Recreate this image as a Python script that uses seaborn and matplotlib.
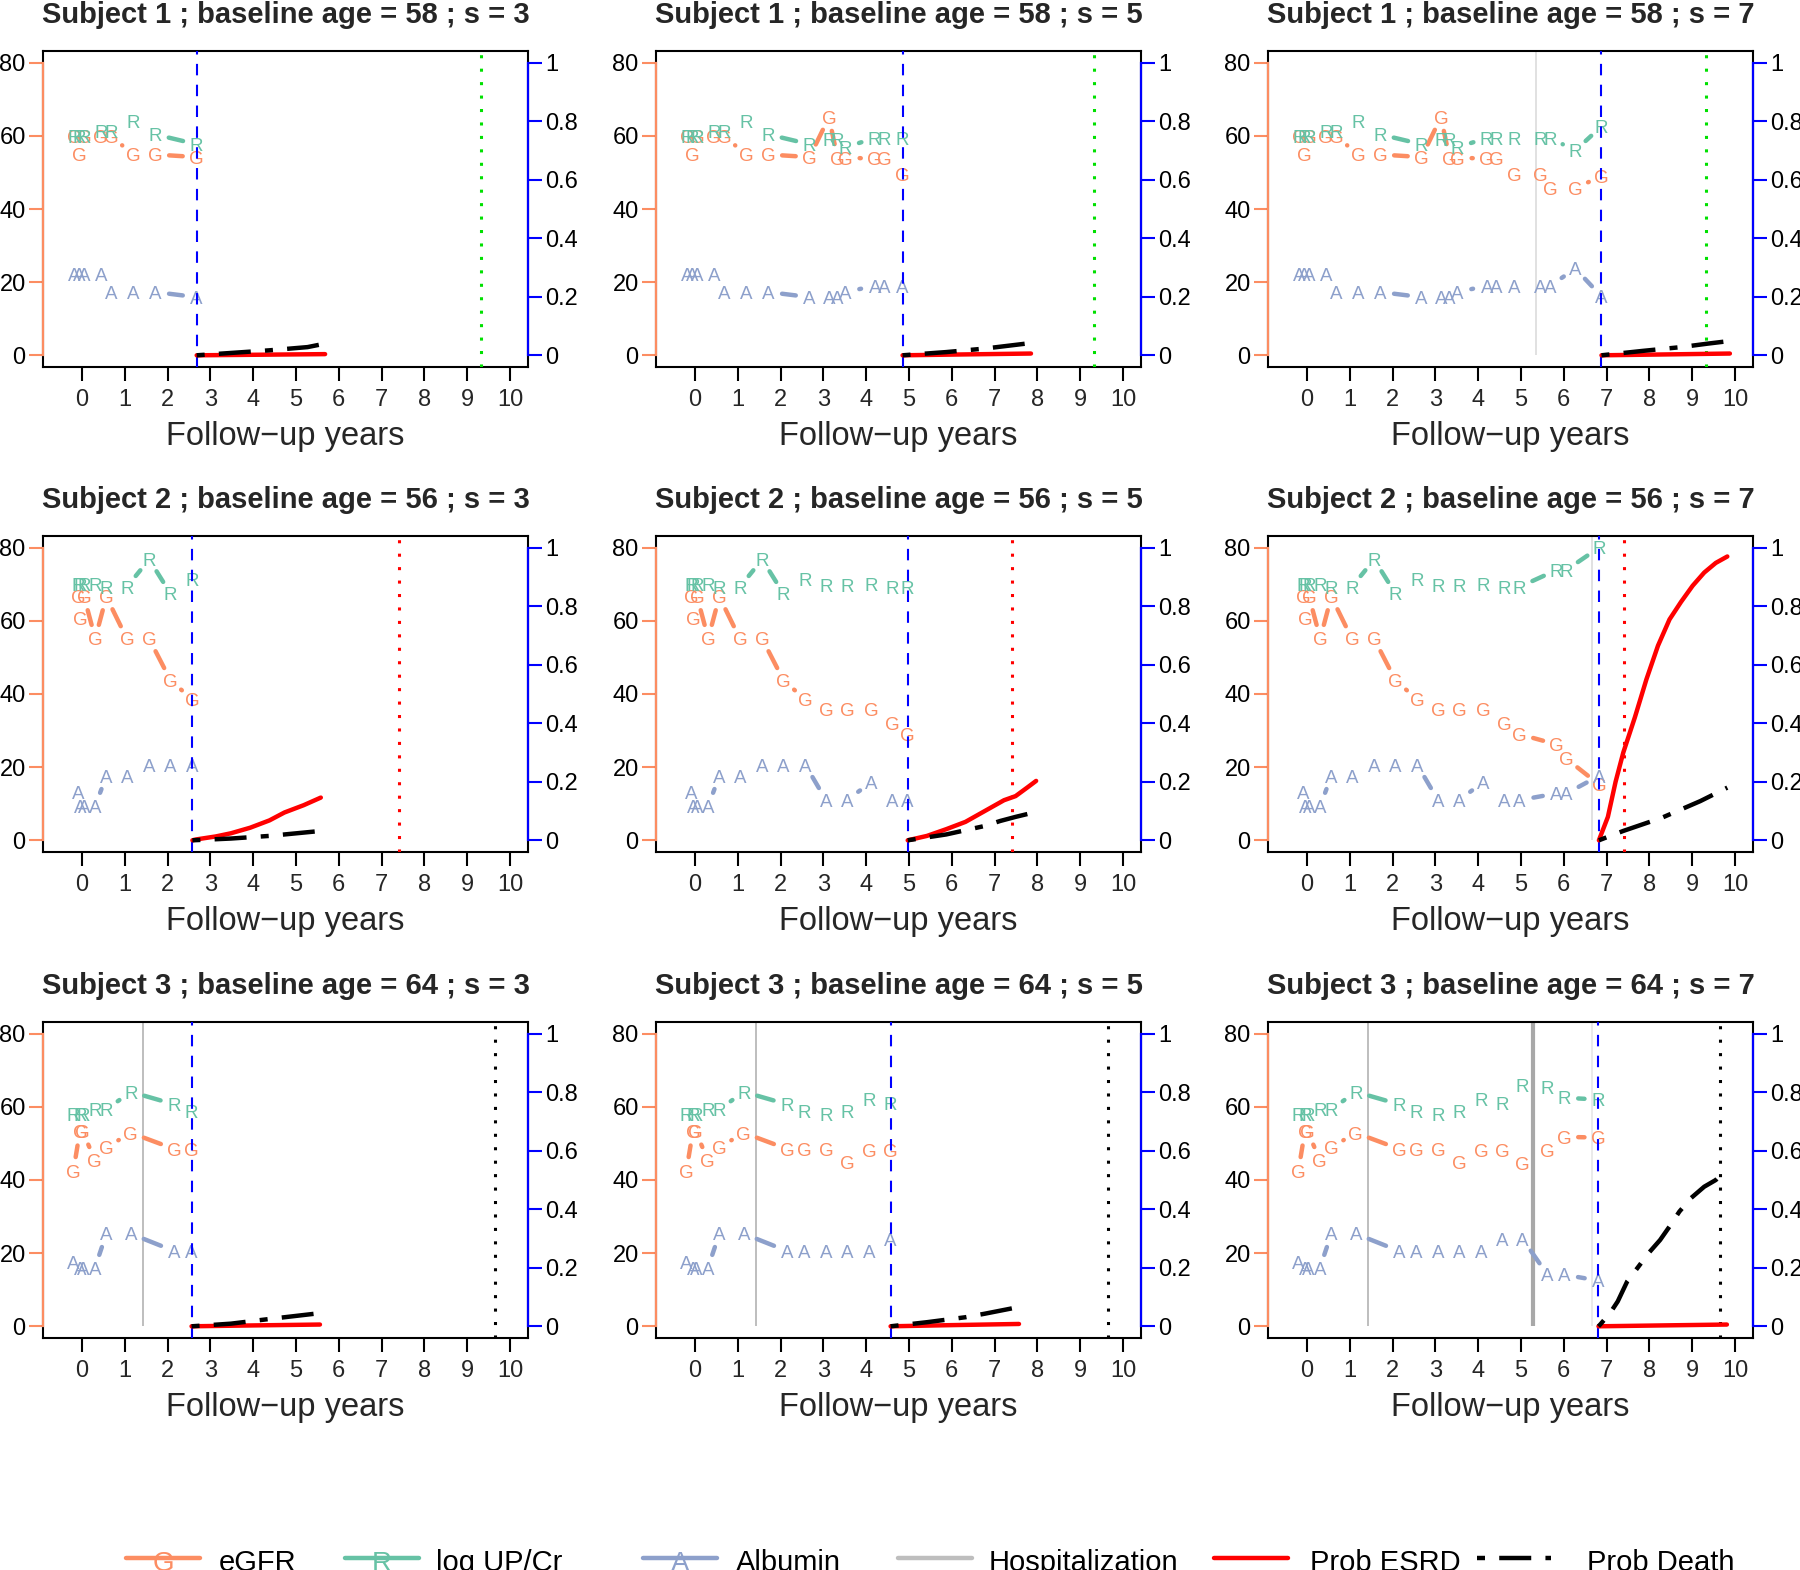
import numpy as np
import pandas as pd
import matplotlib
matplotlib.use("Agg")
import matplotlib.pyplot as plt
from matplotlib.collections import LineCollection
from matplotlib.lines import Line2D
import seaborn as sns

# ---------------- data ----------------
baseline_ages = [58, 56, 64]
s_values = [3, 5, 7]

# Subject 1
s1_time = [-0.19, -0.07, 0.045, 0.44, 0.69, 1.19, 1.71, 2.68, 3.13, 3.33, 3.52, 4.20, 4.43, 4.85, 5.46, 5.68, 6.27, 6.88]
s1_egfr = [60.0, 54.9, 60.0, 59.9, 59.9, 54.9, 54.9, 54.2, 65.1, 54.0, 54.0, 53.8, 53.8, 49.5, 49.5, 45.7, 45.7, 49.0]
s1_upcr = [59.9, 59.9, 59.9, 61.3, 61.3, 64.1, 60.4, 57.7, 59.1, 59.1, 56.9, 59.4, 59.4, 59.4, 59.4, 59.4, 56.0, 62.6]
s1_alb = [22.1, 22.1, 22.1, 22.1, 17.3, 17.3, 17.3, 15.9, 15.9, 15.9, 17.3, 19.0, 19.0, 19.0, 19.0, 19.0, 23.7, 16.1]
s1_landmarks = [2.68, 4.85, 6.88]
s1_hosp_time = [5.34]
s1_event_time = 9.32

# Subject 2
s2_time = [-0.08, -0.04, 0.05, 0.31, 0.57, 1.05, 1.57, 2.07, 2.58, 3.06, 3.55, 4.12, 4.60, 4.97, 5.83, 6.06, 6.82]
s2_egfr = [66.6, 60.6, 66.6, 55.2, 66.6, 55.1, 55.1, 43.7, 38.5, 35.8, 35.8, 35.8, 32.0, 29.0, 26.2, 22.3, 15.3]
s2_upcr = [70.0, 70.0, 70.0, 70.0, 69.3, 69.3, 76.8, 67.4, 71.5, 69.7, 69.7, 70.0, 69.3, 69.3, 73.9, 73.9, 80.0]
s2_alb = [13.0, 9.4, 9.4, 9.4, 17.6, 17.6, 20.6, 20.6, 20.6, 11.0, 11.0, 15.9, 11.0, 11.0, 12.8, 12.8, 17.6]
s2_landmarks = [2.58, 4.97, 6.82]
s2_hosp_time = [6.65]
s2_event_time = 7.40

# Subject 3
s3_time = [-0.20, -0.05, 0.02, 0.30, 0.57, 1.14, 2.15, 2.56, 3.07, 3.55, 4.08, 4.57, 5.04, 5.62, 6.01, 6.81]
s3_egfr = [42.5, 53.2, 53.2, 45.5, 48.9, 52.9, 48.5, 48.5, 48.5, 44.9, 48.2, 48.2, 44.5, 48.0, 51.8, 51.6]
s3_upcr = [58.0, 58.0, 58.0, 59.3, 59.3, 64.1, 60.7, 58.9, 58.0, 58.9, 62.0, 61.0, 65.9, 65.3, 62.5, 62.0]
s3_alb = [17.5, 15.9, 15.9, 15.9, 25.3, 25.3, 20.6, 20.6, 20.5, 20.5, 20.5, 23.8, 23.8, 14.1, 14.1, 12.5]
s3_landmarks = [2.56, 4.57, 6.81]
s3_hosp_time = [1.43, 5.28, 6.65]
s3_event_time = 9.66

# Predicted probabilities (time, prob) per subject and landmark
s1_esrd_t = [[2.68, 4.20, 5.68], [4.85, 6.30, 7.85], [6.88, 8.40, 9.88]]
s1_esrd_p = [[0.0, 0.002, 0.004], [0.0, 0.003, 0.006], [0.0, 0.003, 0.006]]
s1_death_t = [[2.68, 3.48, 4.38, 5.27, 5.68], [4.85, 5.87, 6.77, 7.85], [6.88, 7.84, 8.74, 9.37, 9.88]]
s1_death_p = [[0.0, 0.008, 0.017, 0.028, 0.040], [0.0, 0.011, 0.023, 0.042], [0.0, 0.015, 0.028, 0.040, 0.049]]

s2_esrd_t = [[2.58, 2.67, 3.12, 3.48, 3.93, 4.38, 4.73, 5.18, 5.58],
             [4.97, 5.42, 5.87, 6.32, 6.77, 7.22, 7.49, 7.76, 7.97],
             [6.82, 7.03, 7.21, 7.39, 7.66, 7.93, 8.20, 8.47, 8.74, 9.01, 9.28, 9.55, 9.82]]
s2_esrd_p = [[0.0, 0.003, 0.013, 0.024, 0.043, 0.068, 0.095, 0.120, 0.146],
             [0.0, 0.015, 0.038, 0.063, 0.100, 0.137, 0.151, 0.180, 0.203],
             [0.0, 0.080, 0.200, 0.300, 0.420, 0.550, 0.665, 0.755, 0.815, 0.870, 0.915, 0.948, 0.970]]
s2_death_t = [[2.58, 3.48, 4.38, 5.58], [4.97, 5.87, 6.77, 7.13, 7.49, 7.97], [6.82, 7.39, 8.29, 9.19, 9.82]]
s2_death_p = [[0.0, 0.006, 0.015, 0.032], [0.0, 0.020, 0.049, 0.066, 0.080, 0.097], [0.0, 0.032, 0.077, 0.134, 0.180]]

s3_esrd_t = [[2.56, 4.00, 5.56], [4.57, 6.00, 7.57], [6.81, 8.30, 9.81]]
s3_esrd_p = [[0.0, 0.003, 0.006], [0.0, 0.004, 0.008], [0.0, 0.003, 0.006]]
s3_death_t = [[2.56, 3.48, 4.38, 5.56], [4.57, 5.42, 6.32, 6.77, 7.57],
              [6.81, 6.85, 7.08, 7.26, 7.48, 7.75, 7.98, 8.25, 8.47, 8.70, 8.97, 9.28, 9.55, 9.66]]
s3_death_p = [[0.0, 0.009, 0.025, 0.045], [0.0, 0.014, 0.031, 0.043, 0.066],
              [0.0, 0.006, 0.045, 0.085, 0.153, 0.205, 0.250, 0.295, 0.341, 0.392, 0.438, 0.477, 0.500, 0.517]]

legend_labels = ["eGFR", "log UP/Cr", "Albumin", "Hospitalization", "Prob ESRD", "Prob Death"]
x_ticks = [0, 1, 2, 3, 4, 5, 6, 7, 8, 9, 10]
y_ticks = [0, 20, 40, 60, 80]
p_ticks = [0, 0.2, 0.4, 0.6, 0.8, 1.0]
p_tick_labels = ["0", "0.2", "0.4", "0.6", "0.8", "1"]

# ---------------- styling ----------------
C_EGFR = "#FC8D62"
C_UPCR = "#66C2A5"
C_ALB = "#8DA0CB"
EVENT_COLORS = ["#00E000", "#FF0000", "#000000"]
HOSP_STYLE = [
    [("#dcdcdc", 1.2)],
    [("#dcdcdc", 1.2)],
    [("#bebebe", 1.4), ("#a8a8a8", 3.0), ("#e6e6e6", 1.2)],
]
DEATH_LS = (0, (1.8, 3.2, 7.2, 3.2))

sns.set_theme(style="ticks")
plt.rcParams['font.family'] = ['Liberation Sans', 'DejaVu Sans']

subjects = [
    dict(time=s1_time, egfr=s1_egfr, upcr=s1_upcr, alb=s1_alb, lm=s1_landmarks, hosp=s1_hosp_time,
         event=s1_event_time, et=s1_esrd_t, ep=s1_esrd_p, dt=s1_death_t, dp=s1_death_p),
    dict(time=s2_time, egfr=s2_egfr, upcr=s2_upcr, alb=s2_alb, lm=s2_landmarks, hosp=s2_hosp_time,
         event=s2_event_time, et=s2_esrd_t, ep=s2_esrd_p, dt=s2_death_t, dp=s2_death_p),
    dict(time=s3_time, egfr=s3_egfr, upcr=s3_upcr, alb=s3_alb, lm=s3_landmarks, hosp=s3_hosp_time,
         event=s3_event_time, et=s3_esrd_t, ep=s3_esrd_p, dt=s3_death_t, dp=s3_death_p),
]

W, H = 1800, 1570
fig = plt.figure(figsize=(W / 100, H / 100), dpi=100)
col_left = [43, 656, 1268]
row_top = [51, 536, 1022]
ax_w, ax_h = 485, 316
XLIM = (-0.91, 10.42)
YLIM = (-3.2, 83.2)
PLIM = (-0.04, 1.04)
GAP_PX = 14.0
LETTER_FS = 13.5


def gapped_segments(ax, t, y, r):
    pts = ax.transData.transform(np.column_stack([t, y]))
    inv = ax.transData.inverted()
    segs = []
    for p, q in zip(pts[:-1], pts[1:]):
        d = q - p
        L = np.hypot(d[0], d[1])
        if L > 2 * r:
            u = d / L
            segs.append(inv.transform(np.vstack([p + u * r, q - u * r])))
    return segs


for i, sub in enumerate(subjects):
    time = np.array(sub["time"])
    for j, s in enumerate(s_values):
        L = sub["lm"][j]
        left = col_left[j] / W
        bottom = 1 - (row_top[i] + ax_h) / H
        ax = fig.add_axes([left, bottom, ax_w / W, ax_h / H])
        ax.set_xlim(*XLIM)
        ax.set_ylim(*YLIM)
        ax2 = ax.twinx()
        ax2.set_ylim(*PLIM)

        # hospitalizations
        for ht, (hc, hl) in zip(sub["hosp"], HOSP_STYLE[i]):
            if ht <= L:
                ax.vlines(ht, 0, YLIM[1], colors=hc, linewidth=hl, zorder=1)

        mask = time <= L + 1e-9
        for key, col, letter in [("egfr", C_EGFR, "G"), ("upcr", C_UPCR, "R"), ("alb", C_ALB, "A")]:
            tt = time[mask]
            yy = np.array(sub[key])[mask]
            segs = gapped_segments(ax, tt, yy, GAP_PX)
            if segs:
                lc = LineCollection(segs, colors=col, linewidths=3.2, capstyle="round", zorder=2)
                ax.add_collection(lc, autolim=False)
            for a, b in zip(tt, yy):
                ax.annotate(letter, xy=(a, b), xytext=(0, -0.358 * LETTER_FS), textcoords="offset points",
                            ha="center", va="baseline", fontsize=LETTER_FS, color=col, zorder=3)

        # landmark and event lines
        ax.axvline(L, color="#0000FF", linewidth=1.5, linestyle=(0, (5.5, 4.5)), zorder=4)
        ax.axvline(sub["event"], color=EVENT_COLORS[i], linewidth=2.2, linestyle=(0, (1, 3.4)), zorder=4)

        # probabilities
        df_e = pd.DataFrame({"time": sub["et"][j], "prob": sub["ep"][j]})
        sns.lineplot(data=df_e, x="time", y="prob", ax=ax2, color="#FF0000", linewidth=3.2,
                     estimator=None, sort=False, legend=False)
        ax2.lines[-1].set_solid_capstyle("round")
        df_d = pd.DataFrame({"time": sub["dt"][j], "prob": sub["dp"][j]})
        sns.lineplot(data=df_d, x="time", y="prob", ax=ax2, color="black", linewidth=3.2,
                     estimator=None, sort=False, legend=False)
        ax2.lines[-1].set_linestyle(DEATH_LS)

        ax.set_xlim(*XLIM)
        ax.set_ylim(*YLIM)
        ax2.set_ylim(*PLIM)
        ax2.set_ylabel("")

        # axes styling
        for sp in ax.spines.values():
            sp.set_visible(True)
            sp.set_color("black")
            sp.set_linewidth(1.5)
        for name in ["top", "bottom"]:
            ax2.spines[name].set_visible(False)
        ax2.spines["left"].set_visible(True)
        ax2.spines["left"].set_color(C_EGFR)
        ax2.spines["left"].set_bounds(0, 1)
        ax2.spines["left"].set_linewidth(1.6)
        ax2.spines["right"].set_visible(True)
        ax2.spines["right"].set_color("#0000FF")
        ax2.spines["right"].set_bounds(0, 1)
        ax2.spines["right"].set_linewidth(1.6)

        ax.set_xticks(x_ticks)
        ax.set_yticks(y_ticks)
        ax.set_yticklabels([str(v) for v in y_ticks])
        ax2.set_yticks(p_ticks)
        ax2.set_yticklabels(p_tick_labels)
        ax.tick_params(axis="x", bottom=True, top=False, direction="out", length=10, width=1.5,
                       color="black", labelsize=17, pad=6)
        ax.tick_params(axis="y", left=True, right=False, direction="out", length=10, width=1.5,
                       color=C_EGFR, labelcolor="black", labelsize=17, pad=2.5)
        ax2.tick_params(axis="y", left=False, right=True, direction="out", length=10, width=1.5,
                        color="#0000FF", labelcolor="black", labelsize=17, pad=2.5)
        ax.grid(False)
        ax2.grid(False)

        ax.set_xlabel("Follow\u2212up years", fontsize=23.5, labelpad=7)
        ax.set_ylabel("")
        ax.set_title(f"Subject {i + 1} ; baseline age = {baseline_ages[i]} ; s = {s}",
                     fontsize=21, fontweight="bold", pad=20)

# ---------------- legend ----------------
def fx(x):
    return x / W


def fy(y):
    return 1 - y / H


line_x0 = [126, 345, 643, 898, 1214, 1477]
text_x0 = [219, 436, 736, 989, 1310, 1587]
leg_len = 74
leg_y = 1558
text_base = 1571
leg_styles = [
    dict(color=C_EGFR, ls="-", letter="G"),
    dict(color=C_UPCR, ls="-", letter="R"),
    dict(color=C_ALB, ls="-", letter="A"),
    dict(color="#BEBEBE", ls="-", letter=None),
    dict(color="#FF0000", ls="-", letter=None),
    dict(color="black", ls=DEATH_LS, letter=None),
]
for lab, x0, tx, st in zip(legend_labels, line_x0, text_x0, leg_styles):
    ln = Line2D([fx(x0), fx(x0 + leg_len)], [fy(leg_y), fy(leg_y)], transform=fig.transFigure,
                color=st["color"], linewidth=3.2, linestyle=st["ls"], solid_capstyle="round")
    fig.add_artist(ln)
    if st["letter"]:
        fig.text(fx(x0 + leg_len / 2), fy(text_base), st["letter"], color=st["color"], fontsize=20,
                 ha="center", va="baseline")
    fig.text(fx(tx), fy(text_base), lab, fontsize=21, ha="left", va="baseline", color="black")

fig.savefig("out.png", dpi=100)
